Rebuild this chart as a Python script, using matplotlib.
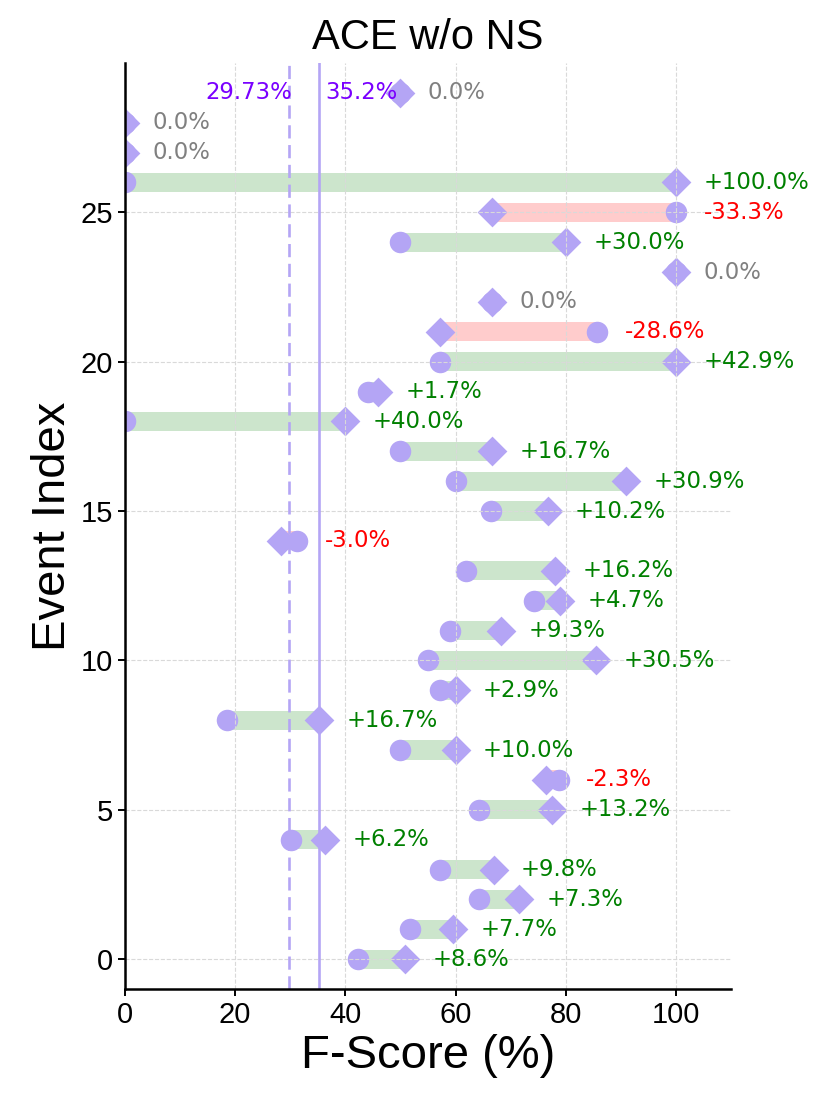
import numpy as np
import matplotlib.pyplot as plt

plt.rcParams['font.family'] = 'Liberation Sans'

# ======================
# DATI
# ======================
events = np.arange(30)
base = [42.3, 51.8, 64.3, 57.1, 30.1, 64.3, 78.7, 50.0, 18.5, 57.1,
        55.0, 59.0, 74.3, 61.9, 31.3, 66.5, 60.0, 50.0, 0.0, 44.2,
        57.1, 85.7, 66.7, 100.0, 50.0, 100.0, 0.0, 0.0, 0.0, 50.0]
new = [50.9, 59.5, 71.6, 66.9, 36.3, 77.5, 76.4, 60.0, 35.2, 60.0,
       85.5, 68.3, 79.0, 78.1, 28.3, 76.7, 90.9, 66.7, 40.0, 45.9,
       100.0, 57.1, 66.7, 100.0, 80.0, 66.7, 100.0, 0.0, 0.0, 50.0]
mean_base = 29.73
mean_new = 35.2

base = np.array(base)
new = np.array(new)
diff = new - base

marker_col = '#b4a5f5'
mean_txt_col = '#7a00ff'
ann_font = ['DejaVu Sans']

fig = plt.figure(figsize=(8.3, 11.07), dpi=100)
ax = fig.add_axes([0.1506, 0.1066, 0.7301, 0.8365])

# ======================
# BARRE
# ======================
for y, b, n, d in zip(events, base, new, diff):
    if abs(d) < 1e-9:
        continue
    col = 'green' if d > 0 else 'red'
    ax.barh(y, n - b, left=b, height=0.64, color=col, alpha=0.2,
            linewidth=0, zorder=1)

ax.scatter(base, events, s=240, marker='o', color=marker_col, linewidths=0, zorder=1)
ax.scatter(new, events, s=230, marker='D', color=marker_col, linewidths=0, zorder=1)

# ======================
# ETICHETTE
# ======================
for y, b, n, d in zip(events, base, new, diff):
    d_r = round(d, 1)
    if d_r > 0:
        txt, col = f"+{d_r:.1f}%", 'green'
    elif d_r < 0:
        txt, col = f"{d_r:.1f}%", 'red'
    else:
        txt, col = "0.0%", 'gray'
    ax.text(max(b, n) + 5, y, txt, color=col, fontsize=16.4, ha='left',
            va='center', fontfamily=ann_font, zorder=3)

ax.axvline(mean_base, color=marker_col, lw=1.9, ls=(0, (5, 2.5)), zorder=2)
ax.axvline(mean_new, color=marker_col, lw=1.9, zorder=2)
ax.text(mean_base + 0.6, 29, f"{mean_base}%", color=mean_txt_col, fontsize=16.4,
        ha='right', va='center', fontfamily=ann_font)
ax.text(mean_new + 1.1, 29, f"{mean_new}%", color=mean_txt_col, fontsize=16.4,
        ha='left', va='center', fontfamily=ann_font)

ax.set_xlim(0, 110)
ax.set_ylim(-1, 30)
ax.set_xticks([0, 20, 40, 60, 80, 100])
ax.set_yticks([0, 5, 10, 15, 20, 25])
ax.grid(True, ls='--', color='#d9d9d9', lw=0.8)
ax.set_axisbelow('line')

ax.spines['top'].set_visible(False)
ax.spines['right'].set_visible(False)
ax.spines['left'].set_linewidth(1.8)
ax.spines['bottom'].set_linewidth(1.8)
ax.tick_params(labelsize=21, width=1.4, length=5)

ax.set_xlabel("F-Score (%)", fontsize=34)
ax.set_ylabel("Event Index", fontsize=34)
ax.set_title("ACE w/o NS", fontsize=30, pad=10)

fig.savefig("out.png", dpi=100)
